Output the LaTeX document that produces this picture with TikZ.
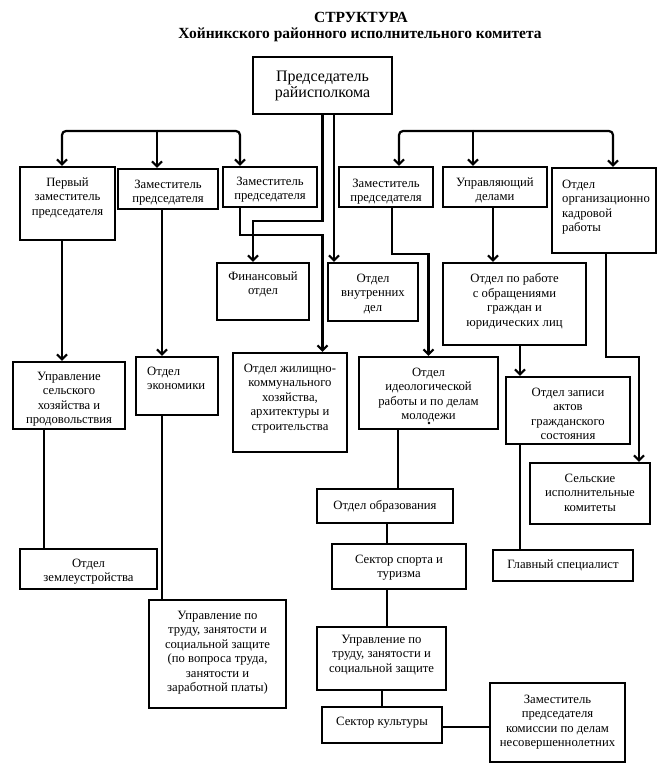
\documentclass[tikz,border=0pt]{standalone}
\usepackage{fontspec}
\setmainfont{Liberation Serif}
\usetikzlibrary{arrows.meta,fit,calc}
\begin{document}
\begin{tikzpicture}[x=1pt,y=-1pt,
 box/.style={draw, line width=2.2pt, inner sep=0pt},
 txt/.style={inner sep=0pt, anchor=north, align=center, yshift=-3pt, font=\fontsize{12.7}{14.5}\selectfont},
 ltxt/.style={txt, anchor=north west, align=left},
 ttl/.style={inner sep=0pt, font=\bfseries\fontsize{15.5}{18}\selectfont},
 con/.style={line width=2.2pt},
 arr/.style={con, -{Straight Barb[length=5pt,width=10pt]}},
]
\useasboundingbox (0,0) rectangle (670,766);

% title
\node[ttl] (t1) at (361,17) {СТРУКТУРА};
\node[ttl] (t2) at (360,35) {Хойникского районного исполнительного комитета};

% boxes
\node[box, line width=2.6pt, fit={(253,57)(392,114)}] (pr) {};
\node[txt, font=\fontsize{16}{16.5}\selectfont, yshift=-4pt] (prT) at (322.5,63.7) {Председатель\\райисполкома};

\node[box, fit={(20,167)(115,240)}] (pz) {};
\node[txt] (pzT) at (67.5,174.5) {Первый\\заместитель\\председателя};
\node[box, fit={(118,169)(218,209)}] (z2) {};
\node[txt] (z2T) at (168,176.5) {Заместитель\\председателя};
\node[box, fit={(223,167)(317,207)}] (z3) {};
\node[txt] (z3T) at (270,173.5) {Заместитель\\председателя};
\node[box, fit={(339,167)(433,207)}] (z4) {};
\node[txt] (z4T) at (386,175.5) {Заместитель\\председателя};
\node[box, fit={(443,167)(547,207)}] (ud) {};
\node[txt] (udT) at (495,174.5) {Управляющий\\делами};
\node[box, fit={(552,168)(656,253)}] (org) {};
\node[ltxt] (orgT) at (562,176.5) {Отдел\\организационно\\кадровой\\работы};

\node[box, fit={(217,263)(309,320)}] (fin) {};
\node[txt] (finT) at (263,268.5) {Финансовый\\отдел};
\node[box, fit={(328,263)(418,321)}] (vd) {};
\node[txt] (vdT) at (373,270.5) {Отдел\\внутренних\\дел};
\node[box, fit={(443,263)(586,345)}] (obr) {};
\node[txt] (obrT) at (514.5,270.5) {Отдел по работе\\с обращениями\\граждан и\\юридических лиц};

\node[box, fit={(13,362)(125,429)}] (ush) {};
\node[txt] (ushT) at (69,368.5) {Управление\\сельского\\хозяйства и\\продовольствия};
\node[box, fit={(136,357)(218,415)}] (ek) {};
\node[ltxt] (ekT) at (147,363.5) {Отдел\\экономики};
\node[box, fit={(233,353)(347,452)}] (jkh) {};
\node[txt] (jkhT) at (290,360.5) {Отдел жилищно-\\коммунального\\хозяйства,\\архитектуры и\\строительства};
\node[box, fit={(359,357)(498,429)}] (ideo) {};
\node[txt] (ideoT) at (428.5,364.5) {Отдел\\идеологической\\работы и по делам\\молодежи};
\fill (429,423) circle (1.3pt);
\node[box, fit={(506,377)(630,444)}] (zags) {};
\node[txt] (zagsT) at (568,384.5) {Отдел записи\\актов\\гражданского\\состояния};
\node[box, fit={(530,463)(650,524)}] (sel) {};
\node[txt] (selT) at (590,470.5) {Сельские\\исполнительные\\комитеты};

\node[box, fit={(317,489)(453,523)}] (obrz) {};
\node[txt] (obrzT) at (385,497.5) {Отдел образования};
\node[box, fit={(332,544)(466,589)}] (sport) {};
\node[txt] (sportT) at (399,551.5) {Сектор спорта и\\туризма};
\node[box, fit={(493,550)(633,581)}] (glav) {};
\node[txt] (glavT) at (563,556.5) {Главный специалист};
\node[box, fit={(317,627)(446,690)}] (trud2) {};
\node[txt] (trud2T) at (381.5,631.5) {Управление по\\труду, занятости и\\социальной защите};
\node[box, fit={(322,707)(442,743)}] (kult) {};
\node[txt] (kultT) at (382,713.5) {Сектор культуры};
\node[box, fit={(490,683)(625,762)}] (kom) {};
\node[txt] (komT) at (557.5,691.5) {Заместитель\\председателя\\комиссии по делам\\несовершеннолетних};

\node[box, fit={(20,549)(157,589)}] (zem) {};
\node[txt] (zemT) at (88.5,555.5) {Отдел\\землеустройства};
\node[box, fit={(149,600)(286,708)}] (trud1) {};
\node[txt] (trud1T) at (217.5,607.5) {Управление по\\труду, занятости и\\социальной защите\\(по вопроса труда,\\занятости и\\заработной платы)};

% brackets
\coordinate (bl) at (62,131); \coordinate (blm) at (157,131); \coordinate (blr) at (240,131);
\draw[arr, rounded corners=4pt] (blm) -- (bl) -- (bl |- pz.north);
\draw[arr, rounded corners=4pt] (blm) -- (blr) -- (blr |- z3.north);
\draw[arr] (blm) -- (blm |- z2.north);
\coordinate (br1) at (399,131); \coordinate (br2) at (473,131); \coordinate (br3) at (613,131);
\draw[arr, rounded corners=4pt] (br2) -- (br1) -- (br1 |- z4.north);
\draw[arr, rounded corners=4pt] (br2) -- (br3) -- (br3 |- org.north);
\draw[arr] (br2) -- (br2 |- ud.north);

% connectors
\coordinate (c1) at (253,221);
\draw[arr] (pr.south) |- (c1) -- (c1 |- fin.north);
\coordinate (c2) at (334,0);
\draw[arr] (pr.south -| c2) -- (c2 |- vd.north);
\coordinate (c3) at (240,235); \coordinate (c4) at (322.5,235);
\draw[arr] (z3.south -| c3) -- (c3) -- (c4) -- (c4 |- jkh.north);
\coordinate (c5) at (392,254); \coordinate (c6) at (428.5,254);
\draw[arr] (z4.south -| c5) -- (c5) -- (c6) -- (c6 |- ideo.north);
\coordinate (c7) at (493,0);
\draw[arr] (ud.south -| c7) -- (c7 |- obr.north);
\coordinate (c8) at (606,357); \coordinate (c9) at (639,357);
\draw[arr] (org.south -| c8) -- (c8) -- (c9) -- (c9 |- sel.north);
\coordinate (c10) at (520,0);
\draw[arr] (obr.south -| c10) -- (c10 |- zags.north);
\draw[con] (zags.south -| c10) -- (c10 |- glav.north);
\draw[arr] (pz.south -| bl) -- (bl |- ush.north);
\coordinate (c11) at (162,0);
\draw[arr] (z2.south -| c11) -- (c11 |- ek.north);
\coordinate (c12) at (44,0);
\draw[con] (ush.south -| c12) -- (c12 |- zem.north);
\draw[con] (ek.south -| c11) -- (c11 |- trud1.north);
\coordinate (c13) at (398,0);
\draw[con] (ideo.south -| c13) -- (c13 |- obrz.north);
\coordinate (c14) at (387,0);
\draw[con] (obrz.south -| c14) -- (c14 |- sport.north);
\draw[con] (sport.south -| c14) -- (c14 |- trud2.north);
\coordinate (c15) at (382,0);
\draw[con] (trud2.south -| c15) -- (c15 |- kult.north);
\coordinate (c16) at (0,727);
\draw[con] (kult.east |- c16) -- (kom.west |- c16);
\end{tikzpicture}
\end{document}
